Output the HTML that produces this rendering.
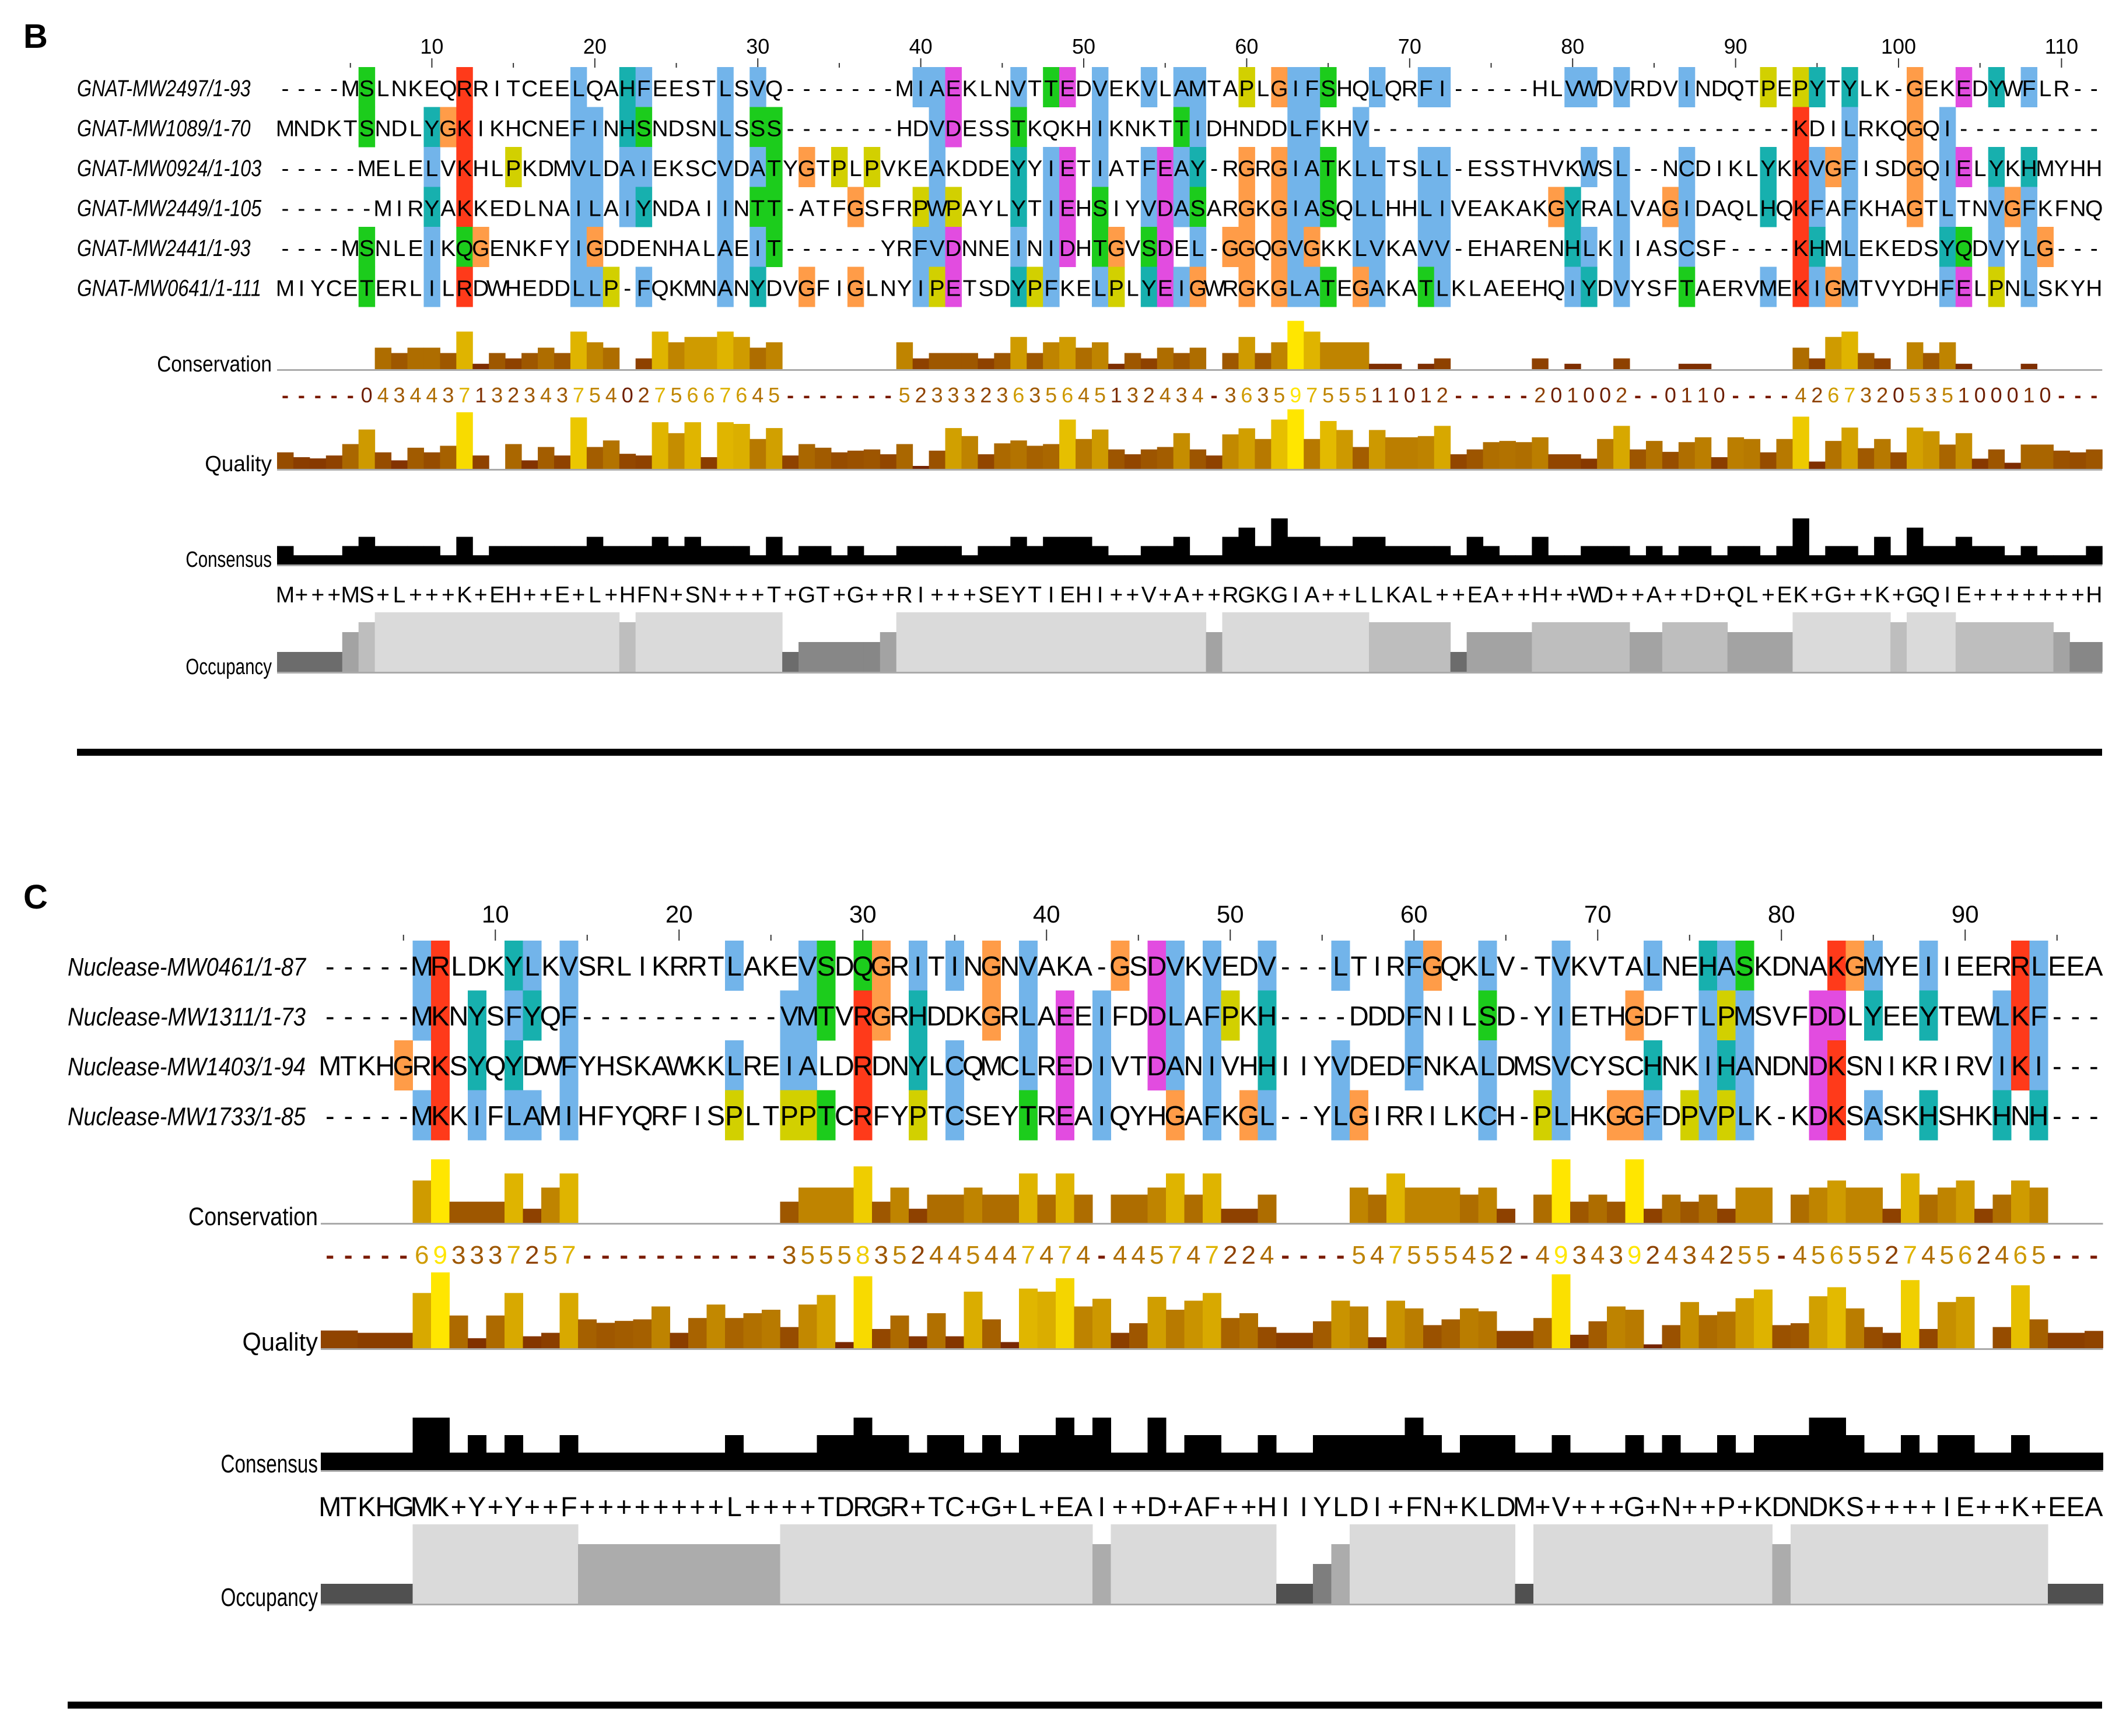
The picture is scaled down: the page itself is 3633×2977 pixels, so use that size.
<!DOCTYPE html>
<html><head><meta charset="utf-8"><title>Alignment panels B and C</title>
<style>html,body{margin:0;padding:0;background:#fff}svg{display:block}</style></head>
<body>
<svg id="fig" xmlns="http://www.w3.org/2000/svg" width="3633" height="2977" viewBox="0 0 3633 2977" font-family="Liberation Sans, Arial, sans-serif">
<rect width="3633" height="2977" fill="#fff"/>
<text x="40" y="82" font-size="58" font-weight="bold">B</text>
<text x="40" y="1558" font-size="58" font-weight="bold">C</text>
<g id="panelB"></g>
<g id="panelC"></g>
</svg>
<script>
const namesB = ["GNAT-MW2497/1-93","GNAT-MW1089/1-70","GNAT-MW0924/1-103","GNAT-MW2449/1-105","GNAT-MW2441/1-93","GNAT-MW0641/1-111"];
const seqsB = [
"----MSLNKEQRRITCEELQAHFEESTLSVQ-------MIAEKLNVTTEDVEKVLAMTAPLGIFSHQLQRFI-----HLVWDVRDVINDQTPEPYTYLK-GEKEDYWFLR--",
"MNDKTSNDLYGKIKHCNEFINHSNDSNLSSS-------HDVDESSTKQKHIKNKTTIDHNDDLFKHV--------------------------KDILRKQGQI---------",
"-----MELELVKHLPKDMVLDAIEKSCVDATYGTPLPVKEAKDDEYYIETIATFEAY-RGRGIATKLLTSLL-ESSTHVKWSL--NCDIKLYKKVGFISDGQIELYKHMYHH",
"------MIRYAKKEDLNAILAIYNDAIINTT-ATFGSFRPWPAYLYTIEHSIYVDASARGKGIASQLLHHLIVEAKAKGYRALVAGIDAQLHQKFAFKHAGTLTNVGFKFNQ",
"----MSNLEIKQGENKFYIGDDENHALAEIT------YRFVDNNEINIDHTGVSDEL-GGQGVGKKLVKAVV-EHARENHLKIIASCSF----KHMLEKEDSYQDVYLG---",
"MIYCETERLILRDWHEDDLLP-FQKMNANYDVGFIGLNYIPETSDYPFKELPLYEIGWRGKGLATEGAKATLKLAEEHQIYDVYSFTAERVMEKIGMTVYDHFELPNLSKYH"];
const conservationB = "-----04344371323437540275667645-------5233323635645132434-36359755511012-----201002--0110----4267320535100010---".split("");
const consensusB = "M+++MS+L+++K+EH++E+L+HFN+SN+++T+GT+G++RI+++SEYTIEHI++V+A++RGKGIA++LLKAL++EA++H++WD++A++D+QL+EK+G++K+GQIE+++++++H".split("");
const qualityB = [68,48,43,55,102,162,68,35,87,68,95,233,55,0,102,35,90,55,212,90,117,62,55,192,147,192,48,192,185,123,168,55,102,87,68,75,80,60,102,12,75,168,135,60,105,117,95,102,203,123,162,80,60,80,90,147,80,55,142,167,123,203,245,123,197,160,90,160,130,130,135,177,60,80,110,115,110,130,60,60,42,123,177,80,115,70,110,130,48,130,123,68,123,215,30,115,170,85,123,68,170,155,100,147,42,80,25,100,100,75,68,80];
const rulerTicksB = [10,20,30,40,50,60,70,80,90,100,110];

const namesC = ["Nuclease-MW0461/1-87","Nuclease-MW1311/1-73","Nuclease-MW1403/1-94","Nuclease-MW1733/1-85"];
const seqsC = [
"-----MRLDKYLKVSRLIKRRTLAKEVSDQGRITINGNVAKA-GSDVKVEDV---LTIRFGQKLV-TVKVTALNEHASKDNAKGMYEIIEERRLEEA",
"-----MKNYSFYQF-----------VMTVRGRHDDKGRLAEEIFDDLAFPKH----DDDFNILSD-YIETHGDFTLPMSVFDDLYEEYTEWLKF---",
"MTKHGRKSYQYDWFYHSKAWKKLREIALDRDNYLCQMCLREDIVTDANIVHHIIYVDEDFNKALDMSVCYSCHNKIHANDNDKSNIKRIRVIKI---",
"-----MKKIFLAMIHFYQRFISPLTPPTCRFYPTCSEYTREAIQYHGAFKGL--YLGIRRILKCH-PLHKGGFDPVPLK-KDKSASKHSHKHNH---"];
const conservationC = "-----693337257-----------35558352445447474-445747224----547555452-4934392434255-45655274562465---".split("");
const consensusC = "MTKHGMK+Y+Y++F++++++++L++++TDRGR+TC+G+L+EAI++D+AF++HIIYLDI+FN+KLDM+V+++G+N++P+KDNDKS++++IE++K+EEA".split("");
const qualityC = [92,92,80,80,80,287,394,170,52,170,287,62,80,287,150,132,142,150,217,80,157,227,157,182,200,110,227,277,32,374,100,170,62,182,62,294,150,32,310,294,364,217,257,80,130,267,200,247,287,157,182,110,80,80,140,247,217,57,247,207,120,150,207,192,90,90,157,384,70,140,217,200,20,120,240,172,190,260,305,120,130,270,317,207,110,80,354,100,240,267,0,110,327,150,80,80,90];
const rulerTicksC = [10,20,30,40,50,60,70,80,90];

const NS="http://www.w3.org/2000/svg";
function mk(tag, attrs, parent){const e=document.createElementNS(NS,tag);for(const k in attrs)e.setAttribute(k,attrs[k]);parent.appendChild(e);return e;}
function grad(t){t=Math.max(0,Math.min(1,t));const r=Math.round(110+145*t),g=Math.round(30+200*Math.pow(t,1.15));return `rgb(${r},${g},0)`;}
const C_BLUE="#72b4ea",C_RED="#ff3a1a",C_GREEN="#1ccc1c",C_CYAN="#17b0ae",C_MAG="#e24ce0",C_PINK="#f08080",C_ORANGE="#ff9c48",C_YEL="#d2d000";
function clustal(colRes){
  const N=colRes.length;const f=s=>colRes.filter(c=>s.includes(c)).length/N;
  const hyd=f("WLVIMAFCHPY");
  return colRes.map(r=>{
    if(r==="G")return C_ORANGE; if(r==="P")return C_YEL;
    if("AILMFWV".includes(r))return hyd>0.6?C_BLUE:null;
    if(r==="C"){if(f("C")>0.85)return C_PINK;return hyd>0.6?C_BLUE:null;}
    if("KR".includes(r))return (f("KR")>0.6||f("KRQ")>0.8)?C_RED:null;
    if(r==="E")return (f("KR")>0.6||f("QE")>0.5||f("ED")>0.5)?C_MAG:null;
    if(r==="D")return (f("KR")>0.6||f("ED")>0.5)?C_MAG:null;
    if(r==="N")return (f("N")>0.5||f("ND")>0.85)?C_GREEN:null;
    if(r==="Q")return (f("KR")>0.6||f("QE")>0.5)?C_GREEN:null;
    if("ST".includes(r))return (hyd>0.6||f("TS")>0.5)?C_GREEN:null;
    if("HY".includes(r))return (hyd>0.6||f("WYACPQFHILMV")>0.85)?C_CYAN:null;
    return null;});
}

function drawPanel(g, L, names, seqs, cons, consLab, qual, ticks, tag){
  const n=seqs[0].length, cx=i=>L.x0+(i+0.5)*L.w;
  ticks.forEach(t=>{
    const lab=mk("text",{x:cx(t-1),y:L.rulerY,"font-size":L.rulerFs,"text-anchor":"middle"},g);lab.textContent=t;
    
    
  });
  for(let c=5;c<=n;c+=5){
    const long=c%10===0;
    const tk=mk("line",{x1:cx(c-1),x2:cx(c-1),y1:long?L.tickY0:L.tickY0+L.tickShort,y2:L.tickY1,stroke:"#333","stroke-width":2},g);
    
    
  }
  const colors=seqs.map(()=>[]);
  for(let i=0;i<n;i++){const cr=clustal(seqs.map(s=>s[i]));cr.forEach((c,k)=>colors[k][i]=c);}
  seqs.forEach((s,k)=>{
    const top=L.rowTop+k*L.rowH;
    const row=mk("g",{},g);
    
    
    for(let i=0;i<n;i++){if(colors[k][i]){
      const r=mk("rect",{x:L.x0+i*L.w,y:top,width:L.w+0.5,height:L.rowH+0.5,fill:colors[k][i]},row);
      
      
    }}
    const nm=mk("text",{x:L.nameX,y:top+L.baseOff,"font-size":L.nameFs,"font-style":"italic",textLength:names[k].length*L.nameCw,lengthAdjust:"spacingAndGlyphs"},row);
    nm.textContent=names[k];
    
    
    const xs=[];for(let i=0;i<n;i++)xs.push(cx(i).toFixed(1));
    const tx=mk("text",{x:xs.join(" "),y:top+L.baseOff,"font-size":L.seqFs,"text-anchor":"middle"},row);
    tx.textContent=s;
    
    
  });
  const xsAll=[];for(let i=0;i<n;i++)xsAll.push(cx(i).toFixed(1));
  function label(txt,y,name){const t=mk("text",{x:L.labX,y:y,"font-size":L.labFs,"text-anchor":"end",textLength:txt.length*L.labCw,lengthAdjust:"spacingAndGlyphs"},g);t.textContent=txt;
    
    }
  function baseline(y,name){const l=mk("rect",{x:L.x0,y:y,width:n*L.w,height:3,fill:"#aaa"},g);
    
    }
  const cg=mk("g",{},g);
  
  
  cons.forEach((d,i)=>{const v=parseInt(d);if(!isNaN(v)&&v>0){const h=v*L.consUnit;
    const b=mk("rect",{x:L.x0+i*L.w,y:L.consBase-h,width:L.w+0.5,height:h,fill:grad(v/9)},cg);
    
    }});
  baseline(L.consBase,'conservation-baseline');
  label("Conservation",L.consBase+4,'conservation-label');
  cons.forEach((d,i)=>{const v=parseInt(d);const t=mk("text",{x:cx(i),y:L.digY,"font-size":L.digFs,"text-anchor":"middle",fill:isNaN(v)?"#7a1a00":grad(v/9),"font-weight":isNaN(v)?"bold":"normal"},g);t.textContent=d;
    
    });
  const qg=mk("g",{},g);
  
  
  const qmax=Math.max(...qual);
  qual.forEach((v,i)=>{if(v>0){const h=v/qmax*L.qualMax;
    const b=mk("rect",{x:L.x0+i*L.w,y:L.qualBase-h,width:L.w+0.5,height:h,fill:grad(v/qmax)},qg);
    
    }});
  baseline(L.qualBase,'quality-baseline');
  label("Quality",L.qualBase+4,'quality-label');
  const sg=mk("g",{},g);
  
  
  for(let i=0;i<n;i++){const cnt={};seqs.forEach(s=>{if(s[i]!=="-")cnt[s[i]]=(cnt[s[i]]||0)+1;});
    const m=Math.max(0,...Object.values(cnt));if(m>0){const h=m*L.consCount;
    const b=mk("rect",{x:L.x0+i*L.w,y:L.cnsBase-h,width:L.w+0.5,height:h,fill:"#000"},sg);
    
    }}
  baseline(L.cnsBase,'consensus-baseline');
  label("Consensus",L.cnsBase+4,'consensus-label');
  const ct=mk("text",{x:xsAll.join(" "),y:L.cnsTextY,"font-size":L.seqFs,"text-anchor":"middle"},g);ct.textContent=consLab.join("");
  
  
  const og=mk("g",{},g);
  
  
  const N=seqs.length;
  for(let i=0;i<n;i++){const o=seqs.filter(s=>s[i]!=="-").length;if(o>0){const h=o*L.occUnit;const gv=Math.round(80+(218-80)*(o-1)/(N-1));
    const b=mk("rect",{x:L.x0+i*L.w,y:L.occBase-h,width:L.w+0.5,height:h,fill:`rgb(${gv},${gv},${gv})`},og);
    
    }}
  baseline(L.occBase,'occupancy-baseline');
  label("Occupancy",L.occBase+4,'occupancy-label');
  const sep=mk("rect",{x:L.sepX,y:L.sepY,width:3604-L.sepX,height:12,fill:"#000"},g);
  
  
}

drawPanel(document.getElementById("panelB"),{
  x0:475,w:27.94,rulerY:92,rulerFs:36,tickY0:100,tickShort:8,tickY1:116,
  rowTop:115,rowH:68.5,baseOff:50,seqFs:39,nameX:132,nameFs:40,nameCw:18.6,
  labX:466,labFs:38,labCw:16.4,consBase:633,consUnit:9.2,digY:690,digFs:36,
  qualBase:804,qualMax:102,cnsBase:968,consCount:15.8,cnsTextY:1033,occBase:1152,occUnit:17,
  sepX:132,sepY:1284},namesB,seqsB,conservationB,consensusB,qualityB,rulerTicksB,"b");

drawPanel(document.getElementById("panelC"),{
  x0:550,w:31.5,rulerY:1582,rulerFs:42,tickY0:1594,tickShort:9,tickY1:1613,
  rowTop:1613,rowH:85.5,baseOff:60,seqFs:47,nameX:116,nameFs:44,nameCw:20.4,
  labX:545,labFs:44,labCw:18.5,consBase:2097,consUnit:12.1,digY:2167,digFs:44,
  qualBase:2312,qualMax:130,cnsBase:2521,consCount:30,cnsTextY:2600,occBase:2750,occUnit:34,
  sepX:116,sepY:2918},namesC,seqsC,conservationC,consensusC,qualityC,rulerTicksC,"c");
</script>
</body></html>
